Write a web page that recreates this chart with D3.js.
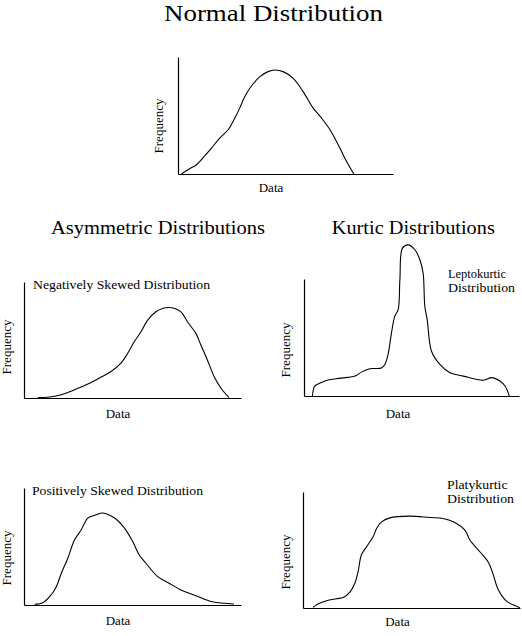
<!DOCTYPE html>
<html>
<head>
<meta charset="utf-8">
<script src="https://cdn.jsdelivr.net/npm/d3@7"></script>
<style>
  html, body { margin: 0; padding: 0; background: #fff; }
  svg { display: block; }
  text { font-family: "Liberation Serif", "Times New Roman", serif; fill: #000; }
</style>
</head>
<body>
<svg id="chart" width="522" height="636"></svg>
<script>
// ---- Data (x: position along "Data" axis 0-100, y: relative frequency 0-100) ----
const normalX = [1.6, 5.4, 8.6, 12.4, 15.6, 19.4, 23.3, 26.4, 28.7, 31.1, 33.4, 38.1, 41.9, 45.0, 48.9, 53.6, 58.2, 62.9, 66.8, 70.7, 75.3, 78.4, 81.8];
const normalY = [0, 4.5, 7.9, 15.5, 22.2, 30.7, 37.8, 47.7, 56.3, 66.2, 73.3, 83.2, 87.5, 88.9, 87.5, 81.8, 70.4, 56.3, 47.7, 37.8, 22.2, 10.7, 0];

const negSkewX = [6.4, 11.8, 17.2, 22.5, 29.4, 34.8, 40.1, 44.7, 47.8, 50.8, 53.9, 57.0, 60.8, 63.8, 67.2, 72.3, 75.3, 79.2, 81.5, 84.5, 87.6, 90.7, 94.5];
const negSkewY = [0.3, 0.9, 2.8, 6.5, 12.0, 17.2, 22.8, 30.0, 38.6, 48.5, 57.1, 67.2, 74.3, 77.2, 78.0, 74.3, 65.7, 55.7, 45.7, 32.8, 18.5, 8.6, 0.3];

const posSkewX = [4.9, 8.7, 11.8, 14.9, 17.2, 20.2, 23.3, 26.4, 29.4, 33.3, 36.3, 41.7, 46.3, 50.1, 53.1, 56.2, 61.6, 66.9, 72.3, 79.2, 86.8, 96.8];
const posSkewY = [0.6, 2.0, 7.1, 15.7, 27.2, 40.0, 55.7, 64.3, 74.3, 77.1, 78.6, 74.3, 65.7, 54.2, 42.8, 35.7, 24.3, 18.6, 12.9, 8.0, 2.8, 0.9];

const leptoX = [3.9, 5.0, 7.3, 11.2, 15.1, 20.5, 24.4, 26.7, 30.6, 36.0, 37.6, 39.1, 40.7, 42.2, 43.8, 44.6, 45.8, 48.4, 51.6, 53.9, 55.4, 56.2, 57.3, 59.3, 63.2, 67.9, 74.1, 83.4, 87.3, 91.1, 93.5, 95.5];
const leptoY = [0, 8.5, 10.8, 13.6, 14.8, 15.9, 17.6, 20.4, 23.3, 23.9, 27.0, 35.5, 54.0, 68.1, 73.9, 99.4, 126.4, 129.2, 125.0, 116.4, 105.1, 76.7, 65.3, 38.3, 27.0, 19.9, 17.0, 13.4, 15.7, 12.8, 8.5, 0];

const platyX = [4.6, 6.9, 10.8, 15.4, 18.5, 21.6, 23.9, 25.4, 26.9, 29.3, 32.3, 33.9, 36.2, 40.0, 49.2, 58.5, 64.6, 70.0, 74.6, 76.9, 81.5, 85.4, 87.7, 90.0, 93.9, 98.5, 100];
const platyY = [0.5, 3.4, 6.3, 8.0, 9.1, 13.7, 21.4, 31.4, 45.7, 52.8, 61.4, 68.6, 74.3, 77.7, 79.2, 78.0, 77.2, 73.8, 67.2, 58.6, 48.5, 39.5, 28.6, 15.7, 5.7, 1.4, 0];

const titles = ["Normal Distribution", "Asymmetric Distributions", "Kurtic Distributions"];
const panelLabels = ["", "Negatively Skewed Distribution", "Leptokurtic\nDistribution", "Positively Skewed Distribution", "Platykurtic\nDistribution"];
const xLabel = "Data";
const yLabel = "Frequency";

// ---- Layout ----
const panels = [
  { xs: normalX,  ys: normalY,  label: panelLabels[0], left: 178, top: 57,  right: 393, bottom: 174,
    yLab: { x: 162.5, y: 126 }, xLab: { x: 271, y: 191.5 } },
  { xs: negSkewX, ys: negSkewY, label: panelLabels[1], left: 24,  top: 282, right: 241, bottom: 398,
    yLab: { x: 11, y: 347 }, xLab: { x: 118, y: 418 },
    lab: { x: 33, y: 288.5, w: 177, anchor: "start" } },
  { xs: leptoX,   ys: leptoY,   label: panelLabels[2], left: 304, top: 279, right: 519, bottom: 396,
    yLab: { x: 290, y: 350 }, xLab: { x: 398, y: 417.5 },
    lab: { x: 448, y: 277.5, w: [58, 67], anchor: "start", dy: 14.3 } },
  { xs: posSkewX, ys: posSkewY, label: panelLabels[3], left: 24,  top: 488, right: 241, bottom: 605,
    yLab: { x: 11, y: 558 }, xLab: { x: 118, y: 625 },
    lab: { x: 32, y: 494.5, w: 171, anchor: "start" } },
  { xs: platyX,   ys: platyY,   label: panelLabels[4], left: 303, top: 492, right: 520, bottom: 608,
    yLab: { x: 290, y: 562 }, xLab: { x: 397.5, y: 625.5 },
    lab: { x: 447, y: 488.5, w: [60.5, 67], anchor: "start", dy: 14.8 } }
];

const svg = d3.select("#chart");

// Headings
svg.append("text").attr("x", 273.5).attr("y", 21).attr("text-anchor", "middle")
  .attr("font-size", 23).attr("textLength", 219).attr("lengthAdjust", "spacingAndGlyphs")
  .text(titles[0]);
svg.append("text").attr("x", 158).attr("y", 234).attr("text-anchor", "middle")
  .attr("font-size", 19).attr("textLength", 214).attr("lengthAdjust", "spacingAndGlyphs")
  .text(titles[1]);
svg.append("text").attr("x", 413.3).attr("y", 234).attr("text-anchor", "middle")
  .attr("font-size", 19).attr("textLength", 163).attr("lengthAdjust", "spacingAndGlyphs")
  .text(titles[2]);

panels.forEach(p => {
  const x = d3.scaleLinear().domain([0, 100]).range([p.left, p.right]);
  const y = d3.scaleLinear().domain([0, 100]).range([p.bottom, p.top]);
  const g = svg.append("g");

  // axes: plain L-shaped lines, no ticks
  g.append("g").attr("transform", `translate(0,${p.bottom})`)
    .call(d3.axisBottom(x).tickValues([]).tickSizeOuter(0))
    .select(".domain").attr("stroke", "#000").attr("stroke-width", 1.2);
  g.append("g").attr("transform", `translate(${p.left},0)`)
    .call(d3.axisLeft(y).tickValues([]).tickSizeOuter(0))
    .select(".domain").attr("stroke", "#000").attr("stroke-width", 1.2);

  // curve
  const pts = p.xs.map((v, i) => [v, p.ys[i]]);
  g.append("path")
    .datum(pts)
    .attr("fill", "none")
    .attr("stroke", "#000")
    .attr("stroke-width", 1.1)
    .attr("d", d3.line().x(d => x(d[0])).y(d => y(d[1])).curve(d3.curveCatmullRom.alpha(0.5)));

  // axis labels
  g.append("text").attr("x", p.xLab.x).attr("y", p.xLab.y).attr("text-anchor", "middle")
    .attr("font-size", 13).text(xLabel);
  g.append("text")
    .attr("transform", `translate(${p.yLab.x},${p.yLab.y}) rotate(-90)`)
    .attr("text-anchor", "middle").attr("font-size", 13).text(yLabel);

  // panel label
  if (p.lab) {
    const lines = p.label.split("\n");
    const widths = Array.isArray(p.lab.w) ? p.lab.w : [p.lab.w];
    lines.forEach((line, i) => {
      g.append("text")
        .attr("x", p.lab.x).attr("y", p.lab.y + i * (p.lab.dy || 0))
        .attr("text-anchor", p.lab.anchor)
        .attr("font-size", 13)
        .attr("textLength", widths[i]).attr("lengthAdjust", "spacingAndGlyphs")
        .text(line);
    });
  }
});
</script>
</body>
</html>
